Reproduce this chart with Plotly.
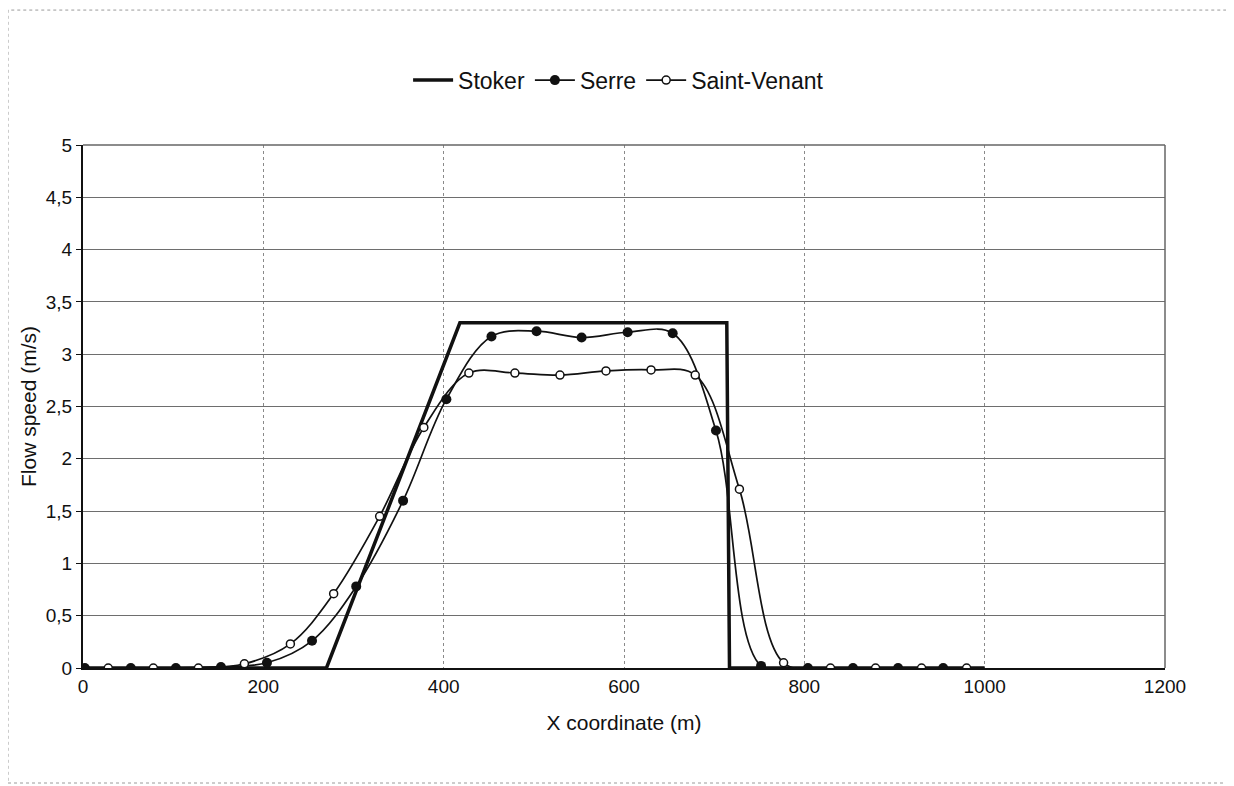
import plotly.graph_objects as go

# ---- data ----
stoker_x = [0, 270, 418, 714, 717, 1000]
stoker_y = [0, 0, 3.30, 3.30, 0, 0]

serre_x = [2, 53, 103, 153, 204, 254, 303, 355, 403, 453, 503, 553, 604, 654, 702, 752, 804, 854, 904, 954]
serre_y = [0, 0, 0, 0.01, 0.05, 0.26, 0.78, 1.60, 2.57, 3.17, 3.22, 3.16, 3.21, 3.20, 2.27, 0.02, 0, 0, 0, 0]

sv_x = [28, 78, 128, 179, 230, 278, 329, 378, 428, 479, 529, 580, 630, 679, 728, 777, 829, 879, 930, 980]
sv_y = [0, 0, 0, 0.04, 0.23, 0.71, 1.45, 2.30, 2.82, 2.82, 2.80, 2.84, 2.85, 2.80, 1.71, 0.05, 0, 0, 0, 0]

y_tickvals = [0, 0.5, 1, 1.5, 2, 2.5, 3, 3.5, 4, 4.5, 5]
y_ticktext = ["0", "0,5", "1", "1,5", "2", "2,5", "3", "3,5", "4", "4,5", "5"]
x_tickvals = [0, 200, 400, 600, 800, 1000, 1200]

INK = "#111111"
FONT = "Liberation Sans, Arial, sans-serif"

fig = go.Figure()
fig.add_trace(go.Scatter(
    x=stoker_x, y=stoker_y, name="Stoker", mode="lines",
    line=dict(color=INK, width=3.5)))
fig.add_trace(go.Scatter(
    x=serre_x, y=serre_y, name="Serre", mode="lines+markers",
    line=dict(color=INK, width=1.7, shape="spline", smoothing=1.0),
    marker=dict(symbol="circle", size=10, color=INK, line=dict(color=INK, width=0))))
fig.add_trace(go.Scatter(
    x=sv_x, y=sv_y, name="Saint-Venant", mode="lines+markers",
    line=dict(color=INK, width=1.7, shape="spline", smoothing=1.0),
    marker=dict(symbol="circle", size=8, color="white", line=dict(color=INK, width=1.5))))

# the page body adds an 8px offset, so the figure is 8px smaller and left/top margins are reduced
fig.update_layout(
    width=1226, height=778,
    margin=dict(l=75, r=69, t=137, b=118),
    paper_bgcolor="white", plot_bgcolor="white",
    font=dict(family=FONT, color=INK, size=19),
    showlegend=True,
    legend=dict(orientation="h", x=0.495, xanchor="center", y=1.124, yanchor="middle",
                font=dict(size=23, color=INK), itemwidth=40, bgcolor="rgba(0,0,0,0)"),
    xaxis=dict(
        range=[0, 1200], tickvals=x_tickvals, showgrid=True,
        gridcolor="#8a8a8a", gridwidth=1, griddash="dot",
        showline=True, linecolor=INK, linewidth=2, zeroline=False,
        ticks="", tickfont=dict(size=19, color=INK),
        title=dict(text="X coordinate (m)", font=dict(size=21, color=INK), standoff=20)),
    yaxis=dict(
        range=[0, 5], tickvals=y_tickvals, ticktext=y_ticktext, showgrid=True,
        gridcolor="#6e6e6e", gridwidth=1,
        showline=True, linecolor=INK, linewidth=2, zeroline=False,
        ticks="outside", ticklen=5, tickcolor=INK, tickfont=dict(size=19, color=INK),
        title=dict(text="Flow speed (m/s)", font=dict(size=21, color=INK), standoff=3)),
    shapes=[
        dict(type="line", xref="paper", yref="paper", x0=0, x1=1, y0=1, y1=1,
             line=dict(color="#666666", width=1.5)),
        dict(type="line", xref="paper", yref="paper", x0=1, x1=1, y0=0, y1=1,
             line=dict(color="#666666", width=1.5)),
        dict(type="rect", xref="paper", yref="paper",
             x0=-0.0693, x1=1.057, y0=-0.2199, y1=1.258,
             line=dict(color="#9a9a9a", width=1, dash="dot"), fillcolor="rgba(0,0,0,0)",
             layer="below"),
    ],
)

fig.write_html("out.html")
